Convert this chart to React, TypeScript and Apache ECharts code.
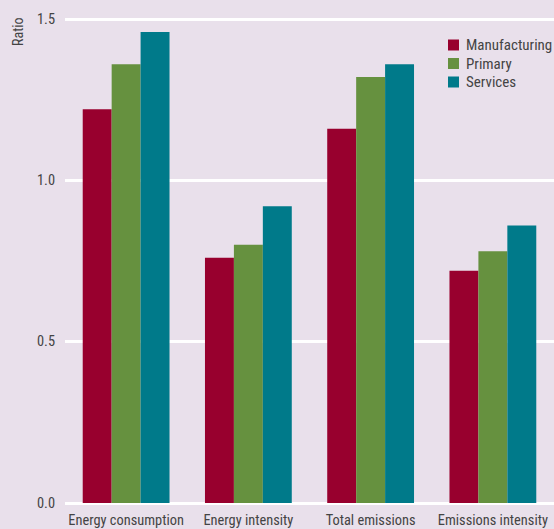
import React, { useEffect, useRef } from "react";
import * as echarts from "echarts";

const categories = ["Energy consumption", "Energy intensity", "Total emissions", "Emissions intensity"];
const manufacturing = [1.22, 0.76, 1.16, 0.72];
const primary = [1.36, 0.8, 1.32, 0.78];
const services = [1.46, 0.92, 1.36, 0.86];
const seriesNames = ["Manufacturing", "Primary", "Services"];
const colors = ["#98002e", "#66913f", "#007a8a"];

const FONT = "'Liberation Sans Narrow', 'Arial Narrow', 'Roboto Condensed', sans-serif";

export default function App() {
  const ref = useRef<HTMLDivElement>(null);
  useEffect(() => {
    const chart = echarts.init(ref.current!, undefined, { renderer: "svg" });
    const data = [manufacturing, primary, services];
    chart.setOption({
      animation: false,
      backgroundColor: "#e9e0eb",
      textStyle: { fontFamily: FONT },
      grid: { left: 65, right: 0, top: 19, bottom: 26 },
      legend: {
        orient: "vertical",
        left: 448,
        top: 37.5,
        padding: 0,
        itemWidth: 11,
        itemHeight: 11,
        itemGap: 3.5,
        icon: "rect",
        textStyle: { fontFamily: FONT, fontSize: 15, lineHeight: 15, color: "#444", padding: [0, 0, 0, 2] },
        data: seriesNames,
      },
      xAxis: {
        type: "category",
        data: categories,
        axisLine: { show: false },
        axisTick: { show: false },
        axisLabel: { fontFamily: FONT, fontSize: 14.4, color: "#444", margin: 10, interval: 0 },
      },
      yAxis: {
        type: "value",
        min: 0,
        max: 1.5,
        interval: 0.5,
        axisLine: { show: false },
        axisTick: { show: false },
        splitLine: { lineStyle: { color: "#ffffff", width: 3 } },
        axisLabel: {
          fontFamily: FONT,
          fontSize: 14.4,
          color: "#444",
          margin: 10,
          formatter: (v: number) => v.toFixed(1),
        },
      },
      graphic: [
        {
          type: "text",
          x: 11,
          y: 46,
          rotation: Math.PI / 2,
          style: { text: "Ratio", fontFamily: FONT, fontSize: 14, fill: "#444" },
        },
      ],
      series: seriesNames.map((name, i) => ({
        name,
        type: "bar",
        data: data[i],
        itemStyle: { color: colors[i] },
        barGap: "0%",
        barCategoryGap: "29%",
      })),
    });
    return () => chart.dispose();
  }, []);
  return <div ref={ref} style={{ width: 554, height: 529, position: "absolute", left: 0, top: 0 }} />;
}
